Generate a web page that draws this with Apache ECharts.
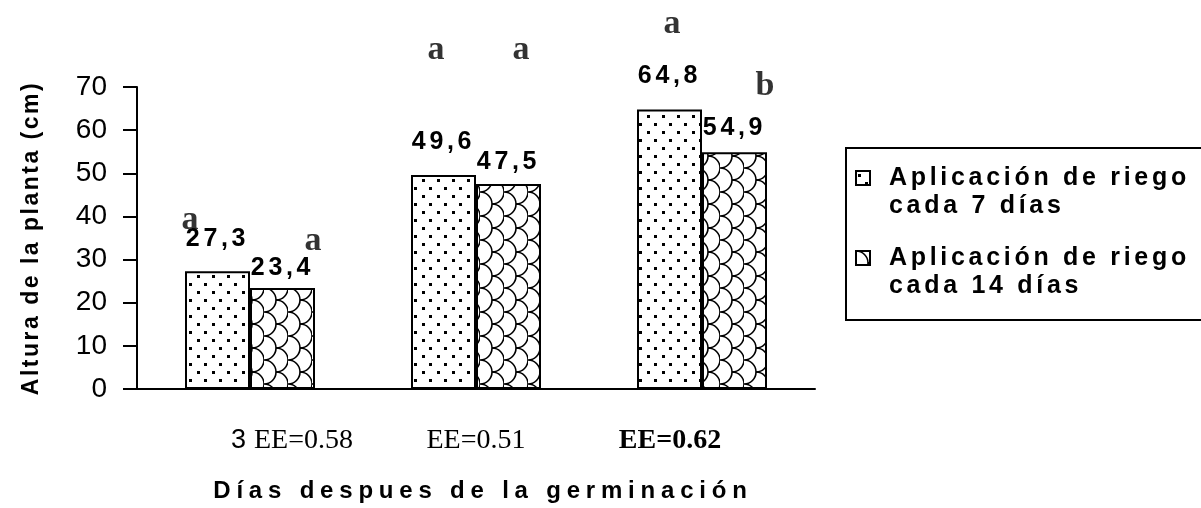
<!DOCTYPE html>
<html>
<head>
<meta charset="utf-8">
<script src="https://cdn.jsdelivr.net/npm/echarts@6/dist/echarts.min.js"></script>
<style>
html, body { margin: 0; padding: 0; background: #fff; }
#chart { width: 1201px; height: 508px; }
</style>
</head>
<body>
<div id="chart"></div>
<script>
var categories = ['30', '45', '60'];
var seriesNames = ['Aplicación de riego\ncada 7 días', 'Aplicación de riego\ncada 14 días'];
var riego7 = [27.3, 49.6, 64.8];
var riego14 = [23.4, 47.5, 54.9];
var eeLabels = ['EE=0.58', 'EE=0.51', 'EE=0.62'];
var letters7 = ['a', 'a', 'a'];
var letters14 = ['a', 'a', 'b'];
var letterHeights7 = [39.2, 78.5, 84.5];
var letterHeights14 = [34.2, 78.5, 70.2];

var SANS = '"Liberation Sans", Arial, sans-serif';
var SERIF = '"Liberation Serif", "Times New Roman", serif';

// the original bold texts are widely tracked; canvas letterSpacing keyed on font size
var tracking = {'23px': '2.5px', '24px': '5.8px', '25px': '3.7px'};
var origFillText = CanvasRenderingContext2D.prototype.fillText;
CanvasRenderingContext2D.prototype.fillText = function(t, x, y, w){
	var sp = '0px';
	if (/bold/.test(this.font) && /Liberation Sans/.test(this.font)) {
		var m = this.font.match(/(\d+px)/);
		if (m && tracking[m[1]]) sp = tracking[m[1]];
	}
	if ('letterSpacing' in this) this.letterSpacing = sp;
	return w === undefined ? origFillText.call(this, t, x, y) : origFillText.call(this, t, x, y, w);
};

// fill patterns
function dotTile(){
	var c = document.createElement('canvas');
	c.width = 15; c.height = 16;
	var g = c.getContext('2d');
	g.fillStyle = '#fff';
	g.fillRect(0, 0, 15, 16);
	g.fillStyle = '#000';
	g.fillRect(2, 3, 3, 3);
	g.fillRect(9, 11, 3, 3);
	return c;
}
function scaleTile(){
	var c = document.createElement('canvas');
	c.width = 24; c.height = 24;
	var g = c.getContext('2d');
	g.fillStyle = '#fff';
	g.fillRect(0, 0, 24, 24);
	g.strokeStyle = '#000';
	g.lineWidth = 1.6;
	[[0, 12], [12, 0], [12, 24]].forEach(function(p){
		g.beginPath();
		g.arc(p[0], p[1], 12, -Math.PI / 2, Math.PI / 2);
		g.stroke();
	});
	return c;
}
var fill7 = {image: dotTile(), repeat: 'repeat'};
var fill14 = {image: scaleTile(), repeat: 'repeat'};

// per-item label tweaks
var labelDist7 = [20, 20, 21];
var labelDist14 = [7, 9, 12];
var letterShift7 = [-60, -40, -30];
var letterShift14 = [63, 45, 63];

function barData(values, dists){
	return values.map(function(v, i){
		return {value: v, label: {distance: dists[i]}};
	});
}
function letterData(){
	var out = [];
	categories.forEach(function(c, i){
		out.push({value: [i, letterHeights7[i]], label: {formatter: letters7[i], offset: [letterShift7[i], 0]}});
		out.push({value: [i, letterHeights14[i]], label: {formatter: letters14[i], offset: [letterShift14[i], 0]}});
	});
	return out;
}

var barLabel = {
	show: true,
	position: 'top',
	color: '#000',
	fontFamily: SANS,
	fontWeight: 'bold',
	fontSize: 25,
	formatter: function(p){ return String(p.value).replace('.', ','); }
};

var chart = echarts.init(document.getElementById('chart'));
chart.setOption({
	backgroundColor: '#fff',
	animation: false,
	grid: {left: 137, right: 386, top: 87, bottom: 117},
	graphic: [{
		type: 'rect',
		shape: {x: 846, y: 148, width: 400, height: 172},
		style: {fill: '#fff', stroke: '#000', lineWidth: 2}
	}],
	legend: {
		orient: 'vertical',
		left: 855,
		top: 136,
		padding: 0,
		itemGap: -4,
		itemWidth: 14,
		itemHeight: 14,
		icon: 'rect',
		textStyle: {fontFamily: SANS, fontWeight: 'bold', fontSize: 25, lineHeight: 28, color: '#000', padding: [0, 0, 0, 14]},
		formatter: function(name){ return '\n' + name; },
		data: [
			{name: seriesNames[0], itemStyle: {color: fill7, borderColor: '#000', borderWidth: 2}},
			{name: seriesNames[1], itemStyle: {color: fill14, borderColor: '#000', borderWidth: 2}}
		]
	},
	xAxis: {
		type: 'category',
		data: categories,
		axisLine: {lineStyle: {color: '#000', width: 2}},
		axisTick: {length: 11, lineStyle: {color: '#000', width: 2}},
		axisLabel: {
			margin: 38,
			color: '#000',
			formatter: function(v, i){
				if (i === 0) return '{n|' + v.charAt(0) + '}{e|' + eeLabels[i] + '}';
				if (i === 2) return '{b|' + eeLabels[i] + '}';
				return '{e|' + eeLabels[i] + '}';
			},
			rich: {
				n: {fontFamily: SANS, fontSize: 27, color: '#000', padding: [0, 8, 0, 84]},
				e: {fontFamily: SERIF, fontSize: 28, color: '#000'},
				b: {fontFamily: SERIF, fontSize: 28, fontWeight: 'bold', color: '#000', padding: [0, 64, 0, 0]}
			}
		},
		name: 'Días despues de la germinación',
		nameLocation: 'middle',
		nameGap: 90,
		nameTextStyle: {fontFamily: SANS, fontWeight: 'bold', fontSize: 24, color: '#000', padding: [0, 0, 0, 14]}
	},
	yAxis: {
		type: 'value',
		min: 0,
		max: 70,
		interval: 10,
		splitLine: {show: false},
		axisLine: {show: true, lineStyle: {color: '#000', width: 2}},
		axisTick: {show: true, length: 14, lineStyle: {color: '#000', width: 2}},
		axisLabel: {margin: 30, fontFamily: SANS, fontSize: 28, color: '#000'},
		name: 'Altura de la planta (cm)',
		nameLocation: 'middle',
		nameGap: 94,
		nameTextStyle: {fontFamily: SANS, fontWeight: 'bold', fontSize: 23, color: '#000'}
	},
	series: [{
		name: seriesNames[0],
		type: 'bar',
		barWidth: 65,
		barGap: '0%',
		itemStyle: {color: fill7, borderColor: '#000', borderWidth: 2},
		label: barLabel,
		data: barData(riego7, labelDist7)
	}, {
		name: seriesNames[1],
		type: 'bar',
		barWidth: 65,
		barGap: '0%',
		itemStyle: {color: fill14, borderColor: '#000', borderWidth: 2},
		label: barLabel,
		data: barData(riego14, labelDist14)
	}, {
		type: 'scatter',
		symbolSize: 0,
		silent: true,
		clip: false,
		label: {
			show: true,
			position: 'inside',
			color: '#000',
			fontFamily: SERIF,
			fontWeight: 'bold',
			fontSize: 34
		},
		data: letterData()
	}]
});
</script>
</body>
</html>
